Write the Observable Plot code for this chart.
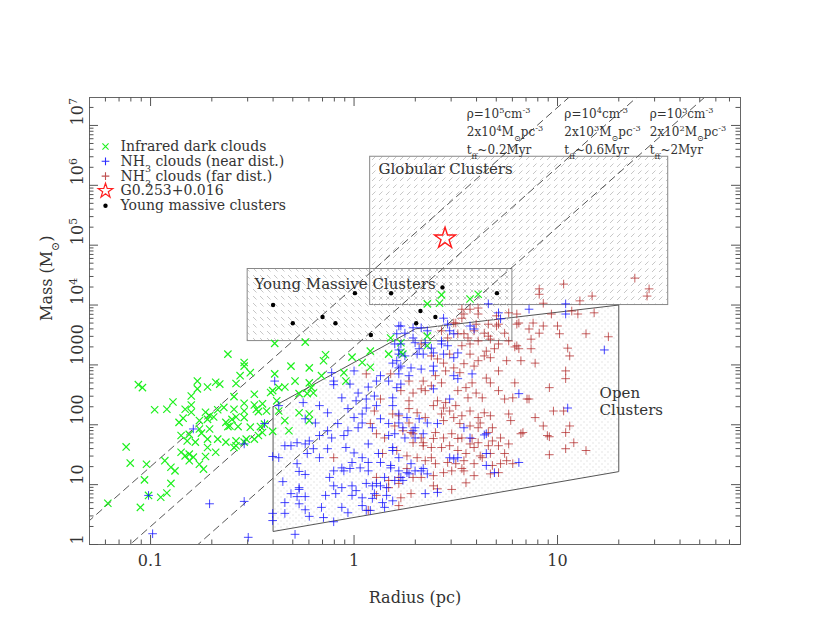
<!DOCTYPE html>
<html><head><meta charset="utf-8">
<script src="https://cdn.jsdelivr.net/npm/d3@7"></script>
<script src="https://cdn.jsdelivr.net/npm/@observablehq/plot@0.6"></script>
<style>html,body{margin:0;padding:0;background:#fff;}</style>
</head><body><div id="chart"></div>
<script>
// ---------------- DATA (log10 radius [pc], log10 mass [Msun]) ----------------
const irdcLog = [[-0.62,3.18],[-0.54,3.04],[-0.54,2.98],[-0.56,2.82],[-0.51,2.87],[-0.39,2.85],[-0.77,2.73],[-0.72,2.63],[-0.68,2.71],[-0.66,2.68],[-0.58,2.69],[-0.77,2.60],[-0.80,2.48],[-0.59,2.47],[-0.49,2.51],[-1.06,2.67],[-1.04,2.62],[-0.89,2.38],[-0.92,2.26],[-0.98,2.25],[-0.83,2.26],[-0.80,2.33],[-0.80,2.21],[-0.73,2.21],[-0.71,2.15],[-0.67,2.25],[-0.64,2.29],[-0.59,2.26],[-0.54,2.36],[-0.49,2.33],[-0.45,2.35],[-0.54,2.23],[-0.48,2.26],[-0.47,2.22],[-0.43,2.23],[-0.40,2.57],[-0.41,2.54],[-0.38,2.40],[-0.86,2.04],[-0.84,2.11],[-0.76,2.07],[-0.72,2.09],[-0.69,2.13],[-0.63,2.04],[-0.61,1.98],[-0.60,2.09],[-0.58,2.13],[-0.54,2.12],[-0.62,1.97],[-0.57,1.97],[-0.51,1.96],[-0.46,1.97],[-0.44,2.01],[-0.76,1.93],[-0.71,1.93],[-0.75,1.86],[-0.81,1.84],[-0.85,1.82],[-0.82,1.73],[-0.78,1.71],[-0.72,1.76],[-0.67,1.76],[-0.63,1.71],[-0.58,1.73],[-0.58,1.65],[-0.54,1.71],[-0.53,1.76],[-0.49,1.76],[-0.47,1.82],[-0.45,1.87],[-1.12,1.63],[-0.72,1.62],[-0.68,1.54],[-0.73,1.47],[-0.81,1.51],[-0.83,1.48],[-0.79,1.46],[-0.81,1.40],[-0.76,1.34],[-0.74,1.26],[-0.90,1.29],[-0.88,1.23],[-1.02,1.34],[-0.93,1.40],[-1.10,1.36],[-1.03,1.08],[-0.90,1.02],[-1.01,0.82],[-0.92,0.86],[-0.95,0.79],[-1.21,0.69],[-1.05,0.62],[-0.40,1.89],[-0.59,1.62],[-0.85,1.54],[-0.39,3.36],[-0.24,3.38],[0.08,3.23],[0.18,3.45],[0.23,3.37],[-0.14,3.17],[-0.15,3.07],[-0.01,3.13],[0.04,3.04],[0.08,2.96],[-0.04,2.73],[-0.16,2.82],[-0.22,2.95],[-0.22,2.70],[-0.21,2.62],[-0.20,2.53],[-0.23,2.52],[-0.34,2.63],[-0.29,2.73],[-0.31,2.98],[-0.27,2.52],[-0.37,2.62],[-0.37,2.23],[-0.27,2.20],[-0.22,2.18],[-0.22,2.07],[-0.34,2.07],[-0.32,1.90],[-0.05,2.87],[0.17,3.18],[0.24,3.18],[0.36,3.48],[0.36,3.32],[0.23,3.21],[0.36,4.02],[0.42,4.03],[0.43,4.17],[0.57,4.10],[0.61,4.18]];

const nh3NearLog = [[-0.79,1.93],[-0.54,1.68],[-0.44,2.02],[-0.39,2.73],[-0.37,2.32],[-0.40,1.47],[-0.37,1.45],[-1.01,0.82],[-0.71,0.68],[-0.54,0.72],[-0.40,0.52],[-0.40,0.40],[-0.99,0.18],[-0.52,0.12],[-0.35,1.05],[-0.34,0.52],[-0.31,0.85],[-0.27,0.92],[-0.28,0.80],[-0.24,0.80],[-0.24,0.58],[-0.22,0.47],[-0.29,0.17],[-0.27,1.22],[-0.24,1.17],[0.23,3.35],[0.22,3.25],[-0.10,2.73],[-0.10,2.67],[-0.11,2.87],[0.00,2.90],[-0.02,2.68],[0.07,2.63],[0.11,2.73],[0.13,2.82],[0.17,2.73],[0.21,2.62],[0.23,2.68],[0.22,2.95],[0.19,3.03],[0.22,3.18],[0.10,2.48],[0.06,2.43],[0.02,2.53],[0.01,2.40],[-0.06,2.45],[-0.17,2.32],[-0.13,2.20],[-0.25,2.37],[-0.03,2.27],[0.00,2.12],[0.04,2.18],[0.06,2.28],[0.11,2.32],[0.19,2.32],[0.22,2.18],[0.22,2.03],[0.17,2.02],[0.13,2.10],[0.09,1.95],[0.04,2.03],[0.02,1.95],[-0.03,1.90],[-0.08,2.02],[-0.13,1.90],[-0.19,2.03],[-0.24,2.10],[-0.11,1.78],[-0.05,1.82],[-0.17,1.82],[-0.22,1.73],[-0.28,1.70],[-0.34,1.65],[-0.31,1.65],[-0.24,1.68],[-0.20,1.60],[-0.23,1.52],[-0.17,1.45],[-0.13,1.60],[-0.04,1.62],[0.00,1.53],[0.04,1.45],[0.07,1.37],[0.12,1.52],[0.19,1.62],[0.22,1.45],[0.18,1.28],[0.13,1.37],[-0.01,1.37],[-0.06,1.28],[-0.10,1.23],[-0.05,1.23],[-0.02,1.27],[0.03,1.28],[0.07,1.23],[-0.28,1.35],[-0.12,1.12],[-0.10,0.98],[-0.06,0.95],[-0.01,0.98],[0.01,0.90],[0.06,1.02],[0.09,0.98],[0.15,1.12],[0.13,0.98],[0.20,1.07],[0.23,1.12],[-0.27,0.95],[-0.14,0.82],[-0.09,0.85],[-0.01,0.82],[0.04,0.78],[0.09,0.77],[0.14,0.70],[0.16,0.82],[0.19,0.73],[-0.34,0.70],[-0.27,0.68],[-0.16,0.62],[-0.06,0.62],[0.04,0.65],[-0.03,0.53],[0.08,0.57],[-0.15,0.45],[-0.10,0.38],[0.44,3.78],[0.66,4.02],[0.71,3.87],[0.57,3.65],[0.47,3.57],[0.23,3.65],[0.29,3.62],[0.21,3.52],[0.30,3.37],[0.35,3.37],[0.32,3.27],[0.38,3.28],[0.43,3.40],[0.46,3.32],[0.49,3.12],[0.51,3.20],[0.44,3.18],[0.39,3.20],[0.34,3.18],[0.31,3.18],[0.25,3.15],[0.21,3.07],[0.23,2.98],[0.28,2.95],[0.33,2.93],[0.39,2.98],[0.39,2.90],[0.27,2.82],[0.22,2.85],[0.49,2.82],[0.51,2.77],[0.58,2.85],[0.39,2.60],[0.47,2.43],[0.19,2.45],[0.26,2.12],[0.32,2.10],[0.36,2.03],[0.30,1.95],[0.24,1.95],[0.20,1.85],[0.25,1.78],[0.34,1.85],[0.41,2.02],[0.54,1.95],[0.57,1.78],[0.65,1.85],[0.47,1.45],[0.51,1.45],[0.65,1.32],[0.69,1.20],[0.81,2.52],[0.81,1.37],[0.28,1.35],[0.26,1.20],[0.30,1.23],[0.34,1.27],[0.36,1.18],[0.22,1.23],[0.19,1.57],[0.86,3.93],[1.04,4.02],[1.04,3.85],[1.23,3.25],[1.05,2.28],[0.07,1.68],[0.17,1.82],[0.18,1.32],[0.27,1.18],[0.33,1.23],[0.35,0.85],[0.41,0.87],[0.49,1.43],[0.64,1.83],[0.65,1.52],[0.15,0.62],[0.06,0.57],[0.29,1.90],[0.30,1.78],[0.24,1.07],[0.16,0.95],[0.11,1.02],[0.10,0.85],[0.22,3.65],[0.25,3.53],[0.33,3.62],[0.36,3.57],[0.46,3.68],[0.49,3.52],[0.59,3.60],[0.72,3.77],[0.29,3.45],[0.43,3.35],[0.20,3.35]];

const nh3FarLog = [[0.06,2.85],[0.13,2.43],[0.18,2.85],[0.08,2.02],[0.10,2.23],[0.19,2.18],[0.20,1.98],[0.15,1.78],[0.14,1.52],[0.17,1.07],[0.22,1.12],[0.11,0.82],[0.07,0.57],[-0.10,1.45],[0.17,0.95],[0.53,3.93],[0.61,3.95],[0.61,3.85],[0.70,3.82],[0.76,3.87],[0.80,3.85],[0.54,3.85],[0.50,3.70],[0.60,3.68],[0.66,3.68],[0.71,3.68],[0.81,3.70],[0.59,3.57],[0.64,3.53],[0.74,3.53],[0.76,3.40],[0.67,3.43],[0.56,3.45],[0.53,3.32],[0.57,3.35],[0.61,3.40],[0.65,3.23],[0.80,3.32],[0.67,3.12],[0.64,3.15],[0.61,3.07],[0.57,3.18],[0.59,2.98],[0.54,3.02],[0.52,2.87],[0.49,2.95],[0.75,3.07],[0.71,2.90],[0.65,2.78],[0.67,2.70],[0.79,2.70],[0.58,2.70],[0.55,2.62],[0.51,2.57],[0.60,2.53],[0.63,2.45],[0.71,2.57],[0.74,2.43],[0.78,2.45],[0.86,2.43],[0.56,2.45],[0.45,2.37],[0.41,2.40],[0.35,2.57],[0.33,2.60],[0.29,2.53],[0.27,2.40],[0.39,2.32],[0.44,2.28],[0.50,2.32],[0.47,2.23],[0.43,2.18],[0.44,2.07],[0.49,2.12],[0.53,2.15],[0.52,2.02],[0.57,2.23],[0.61,2.12],[0.64,2.20],[0.67,2.15],[0.62,2.03],[0.57,1.98],[0.61,1.95],[0.68,1.95],[0.76,2.18],[0.77,2.07],[0.66,1.87],[0.72,1.78],[0.76,1.68],[0.71,1.65],[0.66,1.65],[0.61,1.70],[0.58,1.77],[0.53,1.78],[0.48,1.85],[0.44,1.78],[0.39,1.77],[0.40,1.87],[0.33,1.78],[0.29,1.85],[0.29,1.70],[0.34,1.65],[0.38,1.62],[0.43,1.62],[0.47,1.65],[0.51,1.57],[0.55,1.52],[0.59,1.62],[0.62,1.48],[0.67,1.52],[0.74,1.52],[0.78,1.35],[0.72,1.35],[0.59,1.35],[0.54,1.40],[0.50,1.35],[0.46,1.37],[0.40,1.35],[0.35,1.40],[0.31,1.45],[0.26,1.48],[0.21,1.57],[0.54,1.23],[0.59,1.15],[0.67,1.18],[0.71,1.20],[0.44,1.20],[0.39,1.15],[0.33,1.12],[0.22,2.15],[0.24,1.90],[0.27,2.03],[0.35,2.12],[0.31,2.20],[0.27,2.27],[0.23,2.57],[0.27,2.73],[0.34,2.73],[0.38,2.65],[0.43,2.70],[0.40,2.82],[0.45,2.90],[0.41,3.10],[0.38,3.15],[0.33,3.35],[0.53,3.78],[0.54,3.52],[0.47,3.18],[0.44,3.03],[0.51,3.52],[0.11,1.85],[0.28,1.87],[0.34,1.70],[0.51,1.77],[0.57,1.68],[0.68,1.73],[0.82,1.85],[0.96,1.80],[0.96,1.50],[0.75,1.40],[0.63,1.45],[0.68,1.32],[0.53,1.27],[0.55,1.03],[0.48,1.23],[0.38,1.45],[0.39,0.98],[0.41,0.93],[0.48,0.92],[0.29,1.12],[0.26,1.27],[0.22,1.02],[0.28,0.85],[0.23,0.78],[0.22,0.65],[0.11,1.12],[0.91,4.27],[0.91,4.18],[0.93,4.03],[1.03,4.35],[1.11,4.07],[1.17,4.15],[1.38,4.45],[1.45,4.27],[1.44,4.15],[1.18,3.87],[1.10,3.85],[1.07,3.90],[0.97,3.85],[0.80,3.68],[0.88,3.70],[0.93,3.65],[0.91,3.53],[0.86,3.60],[0.87,3.43],[1.00,3.65],[1.01,3.52],[1.14,3.52],[1.25,3.47],[0.79,3.30],[0.81,3.27],[0.87,3.27],[1.05,3.28],[1.06,3.15],[0.82,3.07],[0.89,3.03],[1.04,2.90],[1.04,2.77],[0.96,2.62],[0.85,2.43],[0.98,2.23],[1.03,2.23],[0.89,2.12],[0.93,1.98],[1.06,1.98],[1.04,1.87],[0.95,1.82],[0.83,1.87],[1.08,1.70],[1.04,1.60],[1.14,1.57],[0.57,3.93],[0.49,3.70],[0.43,3.57],[0.46,3.45],[0.66,3.48],[0.70,3.65],[0.71,3.35],[0.69,3.27]];

// Young massive clusters (radius pc, mass Msun)
const ymcRadius = [0.40, 0.50, 0.70, 0.81, 1.01, 1.21, 1.52, 2.12, 2.02, 2.51, 2.72, 5.04];
const ymcMass   = [1.0e4, 4950, 6300, 4950, 1.58e4, 3160, 1.57e4, 7940, 4950, 6300, 1.97e4, 1.58e4];

// G0.253+0.016
const brickRadius = [2.8];
const brickMass = [1.3e5];

// Regions
const globularBox = [{r1: 1.2, r2: 35, m1: 1e4, m2: 3e6}];
const ymcBox = [{r1: 0.3, r2: 6, m1: 2500, m2: 4e4}];
const openRadius = [0.4, 2, 20, 20, 0.4, 0.4];
const openMass   = [200, 4000, 1e4, 16.5, 1.65, 200];

// Constant-density lines (M = rho * r^3)
const densityPerPc3 = [2e4, 2e3, 2e2];
const densityTexts = [
  ["ρ=10^{5}cm^{-3}", "2x10^{4}M_{⊙}pc^{-3}", "t_{ff}~0.2Myr"],
  ["ρ=10^{4}cm^{-3}", "2x10^{3}M_{⊙}pc^{-3}", "t_{ff}~0.6Myr"],
  ["ρ=10^{3}cm^{-3}", "2x10^{2}M_{⊙}pc^{-3}", "t_{ff}~2Myr"]
];
const densityTextRadius = [3.58, 10.8, 28.4];
const densityTextMass = [1.54e7, 7.6e6, 3.9e6];

// Region labels
const regionLabels = [
  {text: "Globular Clusters", r: 1.32, m: 1.85e6},
  {text: "Young Massive Clusters", r: 0.324, m: 2.2e4},
  {text: "Open", r: 16.1, m: 341},
  {text: "Clusters", r: 16.1, m: 175}
];

// Axis ticks
const xTickValues = [0.1, 1, 10];
const xTickLabels = ["0.1", "1", "10"];
const yTickValues = [1, 10, 100, 1000, 1e4, 1e5, 1e6, 1e7];
const yTickLabels = ["1", "10", "100", "1000", "10^{4}", "10^{5}", "10^{6}", "10^{7}"];
const xMinor = [0.06,0.07,0.08,0.09,0.2,0.3,0.4,0.5,0.6,0.7,0.8,0.9,2,3,4,5,6,7,8,9,20,30,40,50,60,70];
const yMinor = d3.range(0, 8).flatMap(k => d3.range(2, 10).map(j => j * 10 ** k)).filter(v => v < 2.9e7);

// Legend
const legendItems = [
  {label: "Infrared dark clouds", symbol: "times", stroke: "#1ef01e", fill: "none", r: 2.9},
  {label: "NH_{3} clouds (near dist.)", symbol: "plus", stroke: "#2a2aff", fill: "none", r: 2.6},
  {label: "NH_{3} clouds (far dist.)", symbol: "plus", stroke: "#c05050", fill: "none", r: 2.6},
  {label: "G0.253+0.016", symbol: "star", stroke: "#ff2020", fill: "none", r: 4.6},
  {label: "Young massive clusters", symbol: "circle", stroke: "none", fill: "#000", r: 2.2}
];

// ---------------- BUILD ----------------
const W = 830, H = 642, mL = 89, mR = 90, mT = 97, mB = 98;
const innerW = W - mL - mR, innerH = H - mT - mB;
const toPts = arr => arr.map(([lr, lm]) => ({r: 10 ** lr, m: 10 ** lm}));
const irdc = toPts(irdcLog), near = toPts(nh3NearLog), far = toPts(nh3FarLog);
const ymc = ymcRadius.map((r, i) => ({r, m: ymcMass[i]}));
const brick = brickRadius.map((r, i) => ({r, m: brickMass[i]}));
const openPoly = openRadius.map((r, i) => ({r, m: openMass[i]}));
const densityLines = densityPerPc3.flatMap(c => [0.04, 100].map(r => ({c, r, m: c * r ** 3})));
const densityLabelRows = densityTexts.flatMap((rows, j) => rows.map((t, k) => ({t, r: densityTextRadius[j], row: k, j})));

const majorLen = 9, minorLen = 4.5;
const axisColor = "#555";
const textColor = "#333";

const legendMarks = legendItems.flatMap((d, i) => [
  Plot.dot([d], {frameAnchor: "top-left", dx: 16, dy: 49 + i * 14.8, symbol: d.symbol, stroke: d.stroke, fill: d.fill, r: d.r, strokeWidth: d.symbol === "star" ? 1.2 : 1.1}),
  Plot.text([d], {frameAnchor: "top-left", dx: 31, dy: 49 + i * 14.8, text: "label", textAnchor: "start", lineAnchor: "middle", fontSize: 14, fill: textColor})
]);

const plot = Plot.plot({
  width: W, height: H,
  marginLeft: mL, marginRight: mR, marginTop: mT, marginBottom: mB,
  x: {type: "log", domain: [0.0501, 79.3], axis: null},
  y: {type: "log", domain: [1, 2.93e7], axis: null},
  style: {fontFamily: "DejaVu Serif", background: "#fff", color: textColor},
  marks: [
    Plot.rect(globularBox, {x1: "r1", x2: "r2", y1: "m1", y2: "m2", fill: "url(#hatchG)", stroke: "#888", strokeWidth: 1}),
    Plot.line(openPoly, {x: "r", y: "m", fill: "url(#dotPat)", stroke: "#555", strokeWidth: 1}),
    Plot.rect(ymcBox, {x1: "r1", x2: "r2", y1: "m1", y2: "m2", fill: "url(#hatchY)", stroke: "#888", strokeWidth: 1}),
    Plot.line(densityLines, {x: "r", y: "m", z: "c", stroke: "#555", strokeWidth: 1, strokeDasharray: "7,5", clip: true}),
    Plot.dot(irdc, {x: "r", y: "m", symbol: "times", stroke: "#1ef01e", fill: "none", r: 3.4, strokeWidth: 1.2}),
    Plot.dot(far, {x: "r", y: "m", symbol: "plus", stroke: "#b02525", strokeOpacity: 0.72, fill: "none", r: 2.9, strokeWidth: 1}),
    Plot.dot(near, {x: "r", y: "m", symbol: "plus", stroke: "#1515ff", strokeOpacity: 0.78, fill: "none", r: 2.9, strokeWidth: 1}),
    Plot.dot(brick, {x: "r", y: "m", symbol: "star", stroke: "#ff1a1a", fill: "none", r: 6.6, strokeWidth: 1.4}),
    Plot.dot(ymc, {x: "r", y: "m", fill: "#000", r: 2.2}),
    Plot.frame({stroke: "#666", strokeWidth: 1}),
    // ticks (inward, all four sides)
    Plot.ruleX(xTickValues, {x: d => d, insetTop: innerH - majorLen, stroke: axisColor}),
    Plot.ruleX(xTickValues, {x: d => d, insetBottom: innerH - majorLen, stroke: axisColor}),
    Plot.ruleX(xMinor, {x: d => d, insetTop: innerH - minorLen, stroke: axisColor}),
    Plot.ruleX(xMinor, {x: d => d, insetBottom: innerH - minorLen, stroke: axisColor}),
    Plot.ruleY(yTickValues, {y: d => d, insetRight: innerW - majorLen, stroke: axisColor}),
    Plot.ruleY(yTickValues, {y: d => d, insetLeft: innerW - majorLen, stroke: axisColor}),
    Plot.ruleY(yMinor, {y: d => d, insetRight: innerW - minorLen, stroke: axisColor}),
    Plot.ruleY(yMinor, {y: d => d, insetLeft: innerW - minorLen, stroke: axisColor}),
    // tick labels
    Plot.text(xTickValues, {x: d => d, text: (d, i) => xTickLabels[i], frameAnchor: "bottom", dy: 16, lineAnchor: "middle", fontSize: 16, fill: textColor}),
    Plot.text(yTickValues, {y: d => d, text: (d, i) => yTickLabels[i], frameAnchor: "left", dx: -7, rotate: -90, lineAnchor: "bottom", fontSize: 16, fill: textColor}),
    // axis titles
    Plot.text(["Radius (pc)"], {frameAnchor: "bottom", dy: 53, lineAnchor: "middle", text: d => d, fontSize: 16, fill: textColor}),
    Plot.text(["Mass (M_{⊙})"], {frameAnchor: "left", dx: -43, rotate: -90, lineAnchor: "middle", text: d => d, fontSize: 16, fill: textColor}),
    // region labels
    Plot.text(regionLabels, {x: "r", y: "m", text: "text", textAnchor: "start", lineAnchor: "middle", fontSize: 15, fill: textColor}),
    // density labels
    Plot.text(densityLabelRows, {x: "r", y: d => densityTextMass[d.row], text: "t", textAnchor: "start", lineAnchor: "middle", fontSize: 12, fill: textColor}),
    ...legendMarks
  ]
});

// Patterns for region fills
plot.insertAdjacentHTML("afterbegin", `
<defs>
  <pattern id="hatchG" patternUnits="userSpaceOnUse" width="7" height="7">
    <line x1="1" y1="6" x2="4.5" y2="2.5" stroke="#bdbdbd" stroke-width="0.85"/>
  </pattern>
  <pattern id="hatchY" patternUnits="userSpaceOnUse" width="7" height="7">
    <line x1="1" y1="2" x2="4.5" y2="5.5" stroke="#bdbdbd" stroke-width="0.85"/>
  </pattern>
  <pattern id="dotPat" patternUnits="userSpaceOnUse" width="6" height="6">
    <circle cx="1.5" cy="1.5" r="0.55" fill="#c4c4c4"/>
    <circle cx="4.5" cy="4.5" r="0.55" fill="#c4c4c4"/>
  </pattern>
</defs>`);

// super/subscript markup -> tspans
plot.querySelectorAll("text").forEach(t => {
  const s = t.textContent;
  if (!/[\^_]\{/.test(s)) return;
  while (t.firstChild) t.removeChild(t.firstChild);
  const re = /([\^_])\{([^}]*)\}/g;
  let last = 0, m;
  while ((m = re.exec(s))) {
    if (m.index > last) t.appendChild(document.createTextNode(s.slice(last, m.index)));
    const ts = document.createElementNS("http://www.w3.org/2000/svg", "tspan");
    ts.setAttribute("baseline-shift", m[1] === "^" ? "super" : "sub");
    ts.setAttribute("font-size", "68%");
    ts.textContent = m[2];
    t.appendChild(ts);
    last = re.lastIndex;
  }
  if (last < s.length) t.appendChild(document.createTextNode(s.slice(last)));
});

document.getElementById("chart").appendChild(plot);
</script>
</body></html>
